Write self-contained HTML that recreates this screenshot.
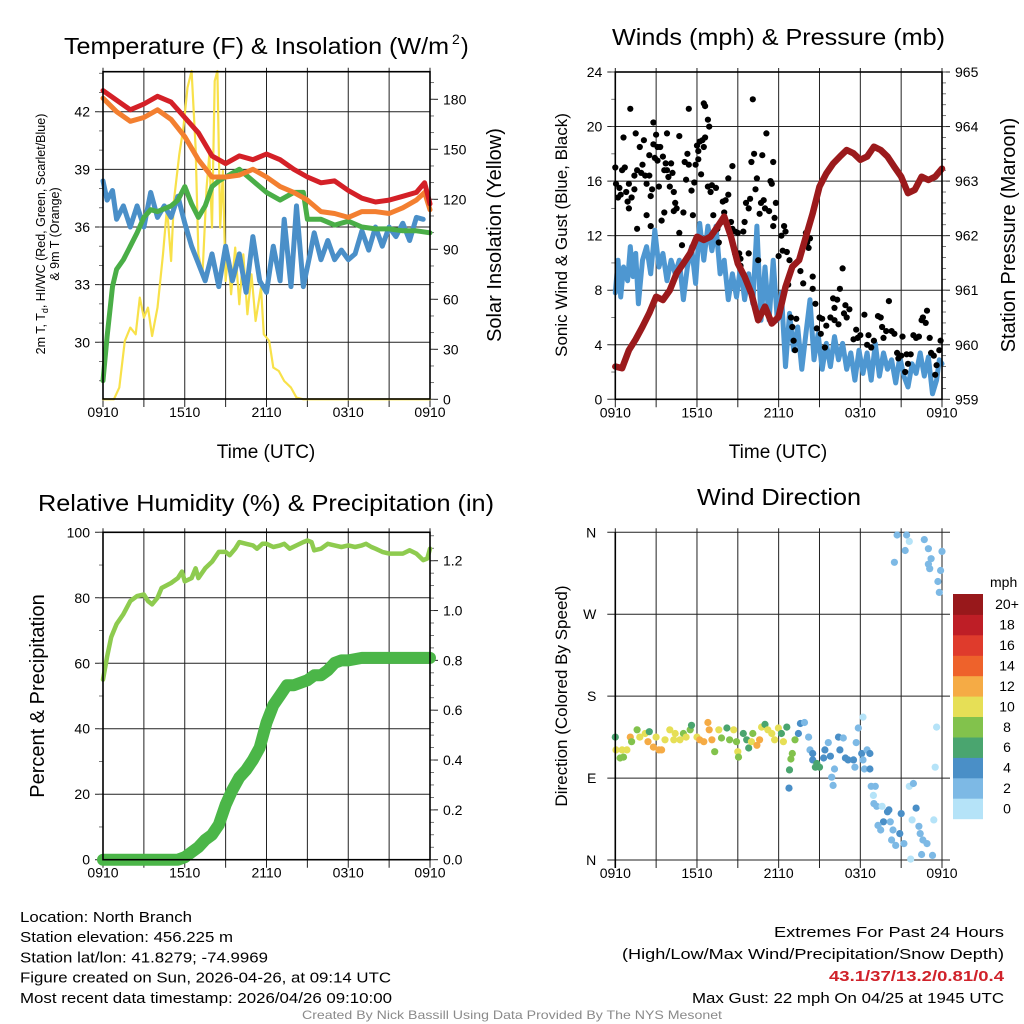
<!DOCTYPE html>
<html><head><meta charset="utf-8">
<style>
html,body{margin:0;padding:0;background:#fff;}
svg{display:block;font-family:"Liberation Sans",Arial,sans-serif;}
</style></head>
<body>
<svg id="fig" width="1024" height="1024" viewBox="0 0 1024 1024" xmlns="http://www.w3.org/2000/svg"></svg>
<script>
// ---------------- DATA ----------------
const timeTickLabels = ["0910","1510","2110","0310","0910"];
const timeTickHours = [0,6,12,18,24];

// Panel 1: temperatures (hour, degF)
const tempRed = [[0,43.1],[1,42.6],[2,42.1],[3,42.4],[4,42.8],[5,42.5],[6,41.7],[7,40.9],[8,39.7],[9,39.3],[10,39.7],[11,39.5],[12,39.8],[13,39.5],[14,39.0],[15,38.6],[16,38.3],[17,38.4],[18,37.9],[19,37.5],[20,37.3],[21,37.4],[22,37.6],[23,37.8],[23.6,38.3],[24,37.2]];
const tempOrange = [[0,42.7],[1,42.0],[2,41.5],[3,41.7],[4,42.1],[5,41.6],[6,40.7],[7,39.5],[8,38.6],[9,38.6],[10,38.7],[11,39.0],[12,38.6],[13,38.1],[14,37.8],[15,37.4],[16,36.8],[17,36.7],[18,36.5],[19,36.8],[20,36.8],[21,36.7],[22,37.0],[23,37.4],[23.6,37.8],[24,36.9]];
const tempGreen = [[0,28.0],[0.3,30.3],[0.7,32.9],[1,33.8],[1.5,34.3],[2,35.0],[2.5,35.7],[3,36.5],[3.5,36.9],[4,36.8],[5,37.1],[5.5,37.4],[6,38.1],[6.5,37.2],[7,36.5],[7.5,37.1],[8,38.1],[8.5,38.4],[9,38.6],[10,39.0],[11,38.4],[12,37.8],[13,37.4],[14,37.8],[14.7,37.8],[15,36.4],[16,36.4],[17,36.1],[18,36.3],[19,36.0],[20,35.9],[21,35.9],[22,35.8],[23,35.8],[24,35.7]];
const tempBlue = [[0,38.4],[0.3,37.4],[0.7,37.9],[1,36.4],[1.5,37.1],[2,36.0],[2.5,37.1],[3,36.0],[3.5,37.8],[4,36.5],[4.5,37.1],[5,36.5],[5.5,37.6],[6,36.2],[6.5,35.0],[7,34.1],[7.5,33.2],[8,34.6],[8.5,32.9],[9,35.0],[9.5,33.2],[10,34.6],[10.5,32.6],[11,35.5],[11.5,33.2],[12,32.6],[12.5,35.0],[13,33.2],[13.3,36.4],[13.8,32.9],[14.2,37.1],[14.7,32.9],[15.2,34.6],[15.5,35.7],[16,34.3],[16.5,35.3],[17,34.3],[17.5,34.8],[18,34.3],[18.5,34.6],[19,35.8],[19.5,34.8],[20,36.0],[20.5,35.0],[21,36.0],[21.5,35.5],[22,36.2],[22.5,35.3],[23,36.5],[23.5,36.4]];
const solar = [[0,0],[0.8,0],[1.2,7],[1.6,35],[2,43],[2.4,39],[2.7,61],[3,49],[3.3,55],[3.6,38],[4,55],[4.4,87],[4.7,115],[5,83],[5.2,119],[5.6,147],[5.9,163],[6.2,187],[6.5,197],[6.8,151],[7.0,87],[7.3,75],[7.6,127],[7.8,147],[8.0,103],[8.2,191],[8.4,197],[8.6,103],[8.8,137],[9.0,71],[9.2,87],[9.4,63],[9.7,91],[10,57],[10.3,87],[10.6,51],[10.9,75],[11.2,47],[11.6,67],[11.8,39],[12,37],[12.2,35],[12.5,19],[12.9,17],[13.3,11],[13.8,7],[14.2,1],[14.7,0],[24,0]];

// Panel 2: winds (hour, mph) and pressure (hour, mb)
const pressure = [[0,959.6],[0.5,959.57],[1,959.9],[1.5,960.1],[2,960.33],[2.5,960.58],[3,960.88],[3.5,960.82],[4,961.0],[4.5,961.31],[5,961.49],[5.5,961.68],[6,961.98],[6.5,961.92],[7,961.98],[7.5,962.16],[8,962.35],[8.5,961.98],[9,961.49],[9.5,961.25],[10,960.94],[10.5,960.45],[11,960.7],[11.5,960.39],[12,960.51],[12.5,961.06],[13,961.43],[13.5,961.55],[14,961.98],[14.5,962.41],[15,962.9],[15.5,963.14],[16,963.32],[16.5,963.45],[17,963.57],[17.5,963.51],[18,963.39],[18.5,963.45],[19,963.63],[19.5,963.57],[20,963.45],[20.5,963.26],[21,963.08],[21.5,962.78],[22,962.84],[22.5,963.08],[23,963.02],[23.5,963.08],[24,963.23]];
const windSpeed = [[0,7.8],[0.2,10.2],[0.4,7.5],[0.6,9.7],[0.9,8.7],[1.1,11.2],[1.3,9.0],[1.5,10.7],[1.7,7.0],[2.0,10.2],[2.3,11.2],[2.6,9.2],[2.9,12.4],[3.2,9.7],[3.5,10.7],[3.8,8.7],[4.1,10.2],[4.4,9.2],[4.7,10.2],[5.0,7.3],[5.3,9.7],[5.6,11.2],[5.9,8.5],[6.2,12.9],[6.5,10.2],[6.8,12.7],[7.1,10.9],[7.4,12.7],[7.7,9.2],[8.0,10.2],[8.3,7.3],[8.6,9.2],[8.9,7.5],[9.2,9.7],[9.5,7.3],[9.8,9.2],[10.1,7.0],[10.4,12.7],[10.7,5.8],[11.0,9.7],[11.3,5.8],[11.6,10.2],[11.9,5.8],[12.2,7.8],[12.5,2.4],[12.8,6.3],[13.1,3.6],[13.4,5.3],[13.7,2.2],[14.0,4.8],[14.3,7.3],[14.6,2.9],[14.9,4.8],[15.2,2.2],[15.5,4.1],[15.8,2.4],[16.1,4.6],[16.4,2.9],[16.7,4.1],[17.0,2.2],[17.3,3.4],[17.6,1.4],[17.9,3.6],[18.2,1.9],[18.5,3.4],[18.8,1.4],[19.1,4.1],[19.4,1.7],[19.7,3.4],[20.0,2.2],[20.3,2.9],[20.6,1.2],[20.9,3.1],[21.2,1.7],[21.5,0.9],[21.8,2.6],[22.1,1.9],[22.4,3.4],[22.7,1.7],[23.0,3.1],[23.3,0.4],[23.6,1.4],[23.8,2.9],[24,2.6]];
const gusts = [[0.0,17.0],[0.05,15.8],[0.2,14.8],[0.3,15.5],[0.4,15.0],[0.5,16.8],[0.6,19.2],[0.7,17.0],[0.8,15.2],[0.9,14.5],[1.0,14.0],[1.0,15.8],[1.1,21.3],[1.2,14.8],[1.4,15.4],[1.4,16.4],[1.5,19.5],[1.6,16.8],[1.6,12.5],[1.8,18.5],[1.9,16.6],[2.0,17.2],[2.1,19.0],[2.2,16.4],[2.3,15.8],[2.3,13.5],[2.5,16.4],[2.5,17.9],[2.6,12.7],[2.6,14.9],[2.7,15.4],[2.8,18.7],[2.8,20.3],[2.9,17.7],[3.0,19.4],[3.1,18.5],[3.1,17.5],[3.2,15.6],[3.3,18.5],[3.4,13.1],[3.5,17.8],[3.6,13.7],[3.6,16.8],[3.7,17.3],[3.8,19.5],[3.8,16.8],[3.9,16.3],[4.0,15.6],[4.1,17.3],[4.2,16.6],[4.3,15.2],[4.3,13.8],[4.4,14.4],[4.5,14.0],[4.7,19.3],[4.7,12.2],[4.9,11.3],[5.0,13.7],[5.1,17.4],[5.2,16.1],[5.3,18.0],[5.4,21.3],[5.4,17.2],[5.6,15.3],[5.7,13.5],[5.8,15.9],[5.9,17.2],[6.0,18.6],[6.1,17.6],[6.1,18.2],[6.2,18.9],[6.3,16.5],[6.4,19.0],[6.5,21.7],[6.5,18.5],[6.6,19.2],[6.6,21.5],[6.8,20.5],[6.8,15.6],[6.9,20.0],[7.0,15.2],[7.1,15.7],[7.2,13.5],[7.4,15.5],[7.5,12.5],[7.6,11.5],[7.8,13.0],[7.9,14.5],[8.0,13.7],[8.1,14.6],[8.3,15.0],[8.3,16.2],[8.5,13.0],[8.6,12.5],[8.6,17.1],[8.8,12.3],[8.8,10.7],[9.0,12.2],[9.1,10.7],[9.2,10.3],[9.2,9.8],[9.4,12.3],[9.5,13.0],[9.6,14.4],[9.8,14.0],[9.8,10.7],[9.9,14.7],[10.0,17.4],[10.1,22.0],[10.2,18.0],[10.3,15.4],[10.4,16.2],[10.5,10.2],[10.6,13.6],[10.7,14.4],[10.8,17.9],[10.9,14.6],[11.0,14.0],[11.1,19.5],[11.3,13.8],[11.4,16.0],[11.5,15.8],[11.6,17.4],[11.6,12.7],[11.7,13.3],[11.8,14.4],[12.0,10.5],[12.2,12.0],[12.3,10.9],[12.4,12.7],[12.5,12.3],[12.6,10.8],[12.7,8.4],[12.8,10.2],[12.9,6.0],[13.0,5.3],[13.1,4.3],[13.2,3.6],[13.3,5.9],[13.6,9.4],[13.8,8.5],[14.0,12.2],[14.1,11.5],[14.2,11.1],[14.3,11.8],[14.5,9.0],[14.5,8.1],[14.7,7.0],[14.8,5.2],[15.0,6.0],[15.1,4.8],[15.2,5.9],[15.4,3.8],[15.5,5.4],[15.8,6.0],[16.0,7.4],[16.1,6.7],[16.1,5.8],[16.3,7.3],[16.4,5.5],[16.5,8.1],[16.7,9.6],[16.8,6.3],[16.9,6.9],[17.0,6.0],[17.2,6.6],[17.5,4.4],[17.7,5.1],[17.8,4.5],[18.0,4.7],[18.3,6.2],[18.5,4.0],[18.6,4.7],[18.8,3.8],[19.0,4.3],[19.3,6.1],[19.5,6.0],[19.6,5.3],[19.7,4.5],[19.9,5.0],[20.1,7.2],[20.3,5.0],[20.5,4.8],[20.7,3.4],[20.8,3.0],[21.0,3.2],[21.1,4.6],[21.3,2.0],[21.4,3.3],[21.5,2.6],[21.7,3.3],[21.9,4.7],[22.1,4.5],[22.3,4.6],[22.5,5.8],[22.6,6.0],[22.8,5.6],[22.9,6.5],[23.1,4.5],[23.2,3.4],[23.4,3.2],[23.5,1.8],[23.6,2.5],[23.8,3.6],[23.9,4.3]];

// Panel 3: RH (hour, %) and precip (hour, in)
const rh = [[0,55],[0.3,62],[0.6,68],[1,72],[1.5,75],[2,79],[2.5,80.5],[3,81],[3.3,79],[3.6,78],[4,80],[4.3,83],[5,84.5],[5.5,86],[5.8,88],[6,85],[6.5,86],[6.8,89],[7,86],[7.5,89],[8,91],[8.5,94],[9,94],[9.3,93],[9.7,95],[10,97],[10.5,96.5],[11,96],[11.3,95],[11.7,96.5],[12,96.5],[12.5,95.5],[13,96],[13.3,96.5],[13.7,95],[14.2,96],[14.7,97],[15,97.5],[15.3,97],[15.5,94.5],[16,95],[16.5,96.5],[17,96],[17.5,95.5],[18,96],[18.5,95.5],[19,96],[19.3,96.5],[19.7,95.5],[20,95],[20.5,94],[21,93.5],[21.5,93.5],[22,93.5],[22.5,94.5],[23,93.5],[23.5,91.5],[23.8,92],[24,95]];
const precip = [[0,0],[5.5,0],[6,0.01],[6.5,0.03],[7,0.05],[7.5,0.08],[8,0.1],[8.5,0.14],[9,0.22],[9.5,0.28],[10,0.33],[10.5,0.36],[11,0.4],[11.5,0.45],[12,0.55],[12.5,0.62],[13,0.66],[13.5,0.7],[14,0.7],[14.5,0.71],[15,0.72],[15.5,0.74],[16,0.74],[16.5,0.76],[17,0.79],[17.5,0.8],[18,0.8],[19,0.81],[20,0.81],[21,0.81],[22,0.81],[23,0.81],[24,0.81]];

// Panel 4: wind direction (hour, degrees, speed mph)
const dirPoints = [[0,135,6],[0.05,121,10],[0.35,112,8],[0.5,121,10],[0.6,113,8],[0.85,121,10],[1.1,135,12],[1.2,130,8],[1.6,143,8],[1.8,135,10],[2.2,139,10],[2.4,130,12],[2.5,141,6],[2.8,124,12],[3.0,135,10],[3.2,121,12],[3.4,121,12],[3.65,132,10],[4.0,143,10],[4.3,132,10],[4.4,139,10],[4.75,132,10],[5.0,139,8],[5.2,135,10],[5.5,143,8],[5.6,148,6],[6.0,135,10],[6.2,132,12],[6.5,130,12],[6.8,151,12],[6.9,143,12],[7.1,132,12],[7.3,119,8],[7.6,143,10],[7.8,134,8],[8.2,145,6],[8.4,132,8],[8.7,143,10],[8.9,130,8],[9.0,119,10],[9.05,113,8],[9.4,139,6],[9.65,132,6],[9.8,123,6],[10.0,130,10],[10.1,139,8],[10.4,126,12],[10.6,132,12],[10.75,146,10],[11.0,149,6],[11.2,143,10],[11.5,139,10],[11.7,132,10],[11.98,145,10],[12.2,139,6],[12.35,130,10],[12.6,146,6],
[12.76,79,4],[12.8,99,6],[12.9,111,8],[13.0,117,8],[13.2,132,8],[13.45,139,4],[13.6,150,4],[13.9,151,2],[14.2,135,2],[14.3,121,2],[14.5,117,4],[14.5,110,4],[14.7,102,6],[14.8,106,6],[15.0,102,6],[15.3,112,4],[15.4,121,4],[15.65,129,2],[15.8,114,4],[15.9,91,2],[16.0,82,2],[16.1,100,2],[16.4,135,4],[16.5,121,4],[16.75,134,2],[16.9,112,4],[17.1,110,4],[17.5,110,4],[17.6,102,2],[17.7,129,2],[17.85,145,2],[18.1,117,4],[18.2,110,2],[18.3,100,2],[18.5,121,2],[18.7,117,4],[18.7,100,4],[18.2,157,0],
[18.8,81,2],[19.1,81,2],[18.96,71,0],[19.0,62,2],[19.2,59,2],[19.6,59,0],[20.0,53,4],[20.1,55,4],[19.7,42,4],[19.3,38,2],[19.5,33,2],[20.2,42,2],[20.4,33,2],[20.3,22,2],[20.6,16,2],[20.9,29,4],[21.2,18,2],[21.0,51,4],[21.6,81,0],[21.9,84,2],[22.1,57,4],[21.8,44,0],[22.3,37,2],[22.4,29,2],[22.6,22,2],[22.9,18,2],[22.5,6,2],[23.3,5,2],[21.7,1,0],[23.4,44,0],[23.5,102,0],[23.6,146,0],
[20.7,357,2],[20.5,327,2],[21.4,357,2],[21.3,340,2],[21.6,350,0],[22.7,352,2],[23.0,342,2],[23.2,331,2],[23.0,325,2],[23.1,320,2],[24,339,2],[23.9,318,2],[23.7,306,2],[23.8,294,2]];

const speedBinLabels = ["0","2","4","6","8","10","12","14","16","18","20+"];
const speedBinColors = ["#b5e3f8","#7db9e5","#4a8fc7","#4aa56f","#82c24c","#e6df56","#f5ab45","#ee622b","#df3b2c","#be1e26","#98181b"];

// ---------------- DRAWING ----------------
const NS = "http://www.w3.org/2000/svg";
const svg = document.getElementById("fig");
function el(tag, attrs, parent){ const e=document.createElementNS(NS,tag); for(const k in attrs) e.setAttribute(k,attrs[k]); (parent||svg).appendChild(e); return e; }
function txt(s, attrs, parent){ const e=el("text",attrs,parent); e.textContent=s; return e; }

function makePanel(x0,y0,x1,y1){ return {x0,y0,x1,y1, sx:h=>x0+(x1-x0)*h/24}; }
function lin(d0,d1,p0,p1){ return v=>p0+(v-d0)*(p1-p0)/(d1-d0); }

function timeAxis(p, g){
  for(let h=0; h<=24; h+=3){
    const x=p.sx(h);
    el("line",{x1:x,y1:p.y0-4,x2:x,y2:p.y1+8,stroke:"#222","stroke-width":1},g);
  }
  timeTickHours.forEach((h,i)=>{
    const t=txt(timeTickLabels[i],{x:p.sx(h),y:p.y1+18,"font-size":14,"text-anchor":"middle",fill:"#000"},g);
    
    
  });
}
function leftAxis(p, sy, ticks, labels, minorStep, lo, hi, g){
  ticks.forEach((v,i)=>{
    const y=sy(v);
    el("line",{x1:p.x0-8,y1:y,x2:p.x1,y2:y,stroke:"#222","stroke-width":1},g);
    const t=txt(labels[i],{x:p.x0-13,y:y+5,"font-size":14,"text-anchor":"end"},g);
    
    
  });
  for(let v=lo; v<=hi+1e-9; v+=minorStep){ const y=sy(v); if(y<p.y0-0.5||y>p.y1+0.5) continue; el("line",{x1:p.x0-4,y1:y,x2:p.x0,y2:y,stroke:"#555","stroke-width":0.8},g); }
}
function rightAxis(p, sy, ticks, labels, minorStep, lo, hi, g){
  ticks.forEach((v,i)=>{
    const y=sy(v);
    el("line",{x1:p.x1,y1:y,x2:p.x1+8,y2:y,stroke:"#222","stroke-width":1},g);
    const t=txt(labels[i],{x:p.x1+13,y:y+5,"font-size":14,"text-anchor":"start"},g);
    
    
  });
  for(let v=lo; v<=hi+1e-9; v+=minorStep){ const y=sy(v); if(y<p.y0-0.5||y>p.y1+0.5) continue; el("line",{x1:p.x1,y1:y,x2:p.x1+4,y2:y,stroke:"#555","stroke-width":0.8},g); }
}
function frame(p,g){ el("rect",{x:p.x0,y:p.y0,width:p.x1-p.x0,height:p.y1-p.y0,fill:"none",stroke:"#000","stroke-width":1.6},g); }
function linePath(data, p, sy, attrs, g){
  const d=data.map((pt,i)=>(i?"L":"M")+p.sx(pt[0]).toFixed(1)+","+sy(pt[1]).toFixed(1)).join(" ");
  return el("path",Object.assign({d,fill:"none","stroke-linejoin":"round","stroke-linecap":"round"},attrs),g);
}
function vtitle(s,x,y,size,g){ return txt(s,{x,y,"font-size":size,"text-anchor":"middle",transform:`rotate(-90 ${x} ${y})`},g); }

// ===== Panel 1 =====
const p1=makePanel(103,71.7,430,399);
const g1=el("g",{});  
const sy1=lin(30,42,342.3,111.7);
const syS=lin(0,180,399.3,99.3);
timeAxis(p1,g1);
leftAxis(p1,sy1,[30,33,36,39,42],["30","33","36","39","42"],1,27,44,g1);
rightAxis(p1,syS,[0,30,60,90,120,150,180],["0","30","60","90","120","150","180"],10,0,196,g1);
let s;
s=linePath(solar,p1,syS,{stroke:"#f8e14a","stroke-width":2.2},g1);  
s=linePath(tempBlue,p1,sy1,{stroke:"#4a8fc8","stroke-width":5},g1);  
s=linePath(tempGreen,p1,sy1,{stroke:"#4aae47","stroke-width":5},g1);  
s=linePath(tempOrange,p1,sy1,{stroke:"#f37f30","stroke-width":5},g1);  
s=linePath(tempRed,p1,sy1,{stroke:"#d42027","stroke-width":5},g1);  
frame(p1,g1);
const t1=txt("Temperature (F) & Insolation (W/m",{x:64,y:54,"font-size":23,textLength:385,lengthAdjust:"spacingAndGlyphs"},g1);
 
const supT=txt("2",{x:452,y:44,"font-size":14},g1);  
const supP=txt(")",{x:461,y:54,"font-size":23},g1);  
let yt=txt("2m T, T",{x:45,y:234,"font-size":12.5,"text-anchor":"middle",transform:"rotate(-90 45 234)"},g1);
const sub=el("tspan",{dy:3,"font-size":9},yt); sub.textContent="d";
const rest=el("tspan",{dy:-3},yt); rest.textContent=", HI/WC (Red, Green, Scarlet/Blue)";
 
yt=vtitle("& 9m T (Orange)",59,234,12.5,g1);  
yt=vtitle("Solar Insolation (Yellow)",501,235,20,g1);  
yt=txt("Time (UTC)",{x:266,y:458,"font-size":19,"text-anchor":"middle"},g1);  

// ===== Panel 2 =====
const p2=makePanel(615.3,72,942,399.3);
const g2=el("g",{});  
const syW=lin(0,24,399.3,72);
const syP=lin(959,965,399.3,72);
timeAxis(p2,g2);
leftAxis(p2,syW,[0,4,8,12,16,20,24],["0","4","8","12","16","20","24"],2,0,24,g2);
rightAxis(p2,syP,[959,960,961,962,963,964,965],["959","960","961","962","963","964","965"],0.2,959,965,g2);
s=linePath(windSpeed,p2,syW,{stroke:"#4e97d1","stroke-width":5},g2);  
gusts.forEach(pt=>{
  const c=el("circle",{cx:p2.sx(pt[0]).toFixed(1),cy:syW(pt[1]).toFixed(1),r:3.1,fill:"#000"},g2);
  
  
});
s=linePath(pressure,p2,syP,{stroke:"#9b1a1c","stroke-width":6.5},g2);  
frame(p2,g2);
yt=txt("Winds (mph) & Pressure (mb)",{x:612,y:45,"font-size":23,textLength:333,lengthAdjust:"spacingAndGlyphs"},g2);  
yt=vtitle("Sonic Wind & Gust (Blue, Black)",567,235,17,g2);  
yt=vtitle("Station Pressure (Maroon)",1015,235,20,g2);  
yt=txt("Time (UTC)",{x:778,y:458,"font-size":19,"text-anchor":"middle"},g2);  

// ===== Panel 3 =====
const p3=makePanel(103,532.3,430,859.7);
const g3=el("g",{});  
const syRH=lin(0,100,859.7,532.3);
const syPr=lin(0,1.2,859.7,560.7);
timeAxis(p3,g3);
leftAxis(p3,syRH,[0,20,40,60,80,100],["0","20","40","60","80","100"],10,0,100,g3);
rightAxis(p3,syPr,[0,0.2,0.4,0.6,0.8,1.0,1.2],["0.0","0.2","0.4","0.6","0.8","1.0","1.2"],0.05,0,1.31,g3);
s=linePath(rh,p3,syRH,{stroke:"#8ecb4f","stroke-width":4.5},g3);  
s=linePath(precip,p3,syPr,{stroke:"#4bb648","stroke-width":12},g3);  
frame(p3,g3);
yt=txt("Relative Humidity (%) & Precipitation (in)",{x:38,y:511,"font-size":23,textLength:456,lengthAdjust:"spacingAndGlyphs"},g3);  
yt=vtitle("Percent & Precipitation",44,696,20,g3);  

// ===== Panel 4 =====
const p4=makePanel(615.3,532.3,942,860);
const g4=el("g",{});  
const syD=lin(0,360,860,532.3);
timeAxis(p4,g4);
const dirLabels=["N","E","S","W","N"];
[0,90,180,270,360].forEach((v,i)=>{
  const y=syD(v);
  el("line",{x1:p4.x0-8,y1:y,x2:p4.x1+8,y2:y,stroke:"#222","stroke-width":1},g4);
  const t=txt(dirLabels[i],{x:p4.x0-19,y:y+5,"font-size":14,"text-anchor":"end"},g4);
   
});
function binIndex(sp){ return Math.min(10, Math.max(0, Math.round(sp/2))); }
dirPoints.forEach(pt=>{
  const c=el("circle",{cx:p4.sx(pt[0]).toFixed(1),cy:syD(pt[1]).toFixed(1),r:3.6,fill:speedBinColors[binIndex(pt[2])]},g4);
  
  
});
el("line",{x1:p4.x0,y1:p4.y0,x2:p4.x0,y2:p4.y1+8,stroke:"#000","stroke-width":1.6},g4);
yt=txt("Wind Direction",{x:697,y:505,"font-size":23,textLength:164,lengthAdjust:"spacingAndGlyphs"},g4);  
yt=vtitle("Direction (Colored By Speed)",567,696,17,g4);  
const cb=el("g",{});  
const cbTop=594, cbBot=818.7, cbH=(cbBot-cbTop)/speedBinColors.length;
speedBinColors.forEach((col,i)=>{
  const y=cbBot-(i+1)*cbH;
  const r=el("rect",{x:953,y:y.toFixed(1),width:30,height:(cbH+0.5).toFixed(1),fill:col},cb);
   
  const t=txt(speedBinLabels[i],{x:1007,y:(y+cbH/2+5).toFixed(1),"font-size":14,"text-anchor":"middle"},cb);
   
});
yt=txt("mph",{x:990,y:587,"font-size":14,"text-anchor":"start"},cb);  

// ===== Footer =====
const foot=el("g",{"font-size":15});  
const leftLines=[["Location: North Branch",172],["Station elevation: 456.225 m",213],["Station lat/lon: 41.8279; -74.9969",248],["Figure created on Sun, 2026-04-26, at 09:14 UTC",371],["Most recent data timestamp: 2026/04/26 09:10:00",372]];
leftLines.forEach((l,i)=>{
  const t=txt(l[0],{x:20,y:922+i*20.2,textLength:l[1],lengthAdjust:"spacingAndGlyphs"},foot);
   
});
const rightLines=[["Extremes For Past 24 Hours",230,937,"#000","normal"],["(High/Low/Max Wind/Precipitation/Snow Depth)",382,959,"#000","normal"],["43.1/37/13.2/0.81/0.4",175,981,"#d0222a","bold"],["Max Gust: 22 mph On 04/25 at 1945 UTC",312,1003,"#000","normal"]];
rightLines.forEach(l=>{
  const t=txt(l[0],{x:1004-l[1],y:l[2],textLength:l[1],lengthAdjust:"spacingAndGlyphs",fill:l[3],"font-weight":l[4]},foot);
   
});
yt=txt("Created By Nick Bassill Using Data Provided By The NYS Mesonet",{x:302,y:1019,"font-size":12,fill:"#8a8a8a",textLength:420,lengthAdjust:"spacingAndGlyphs"},foot);
 
</script>
</body></html>
